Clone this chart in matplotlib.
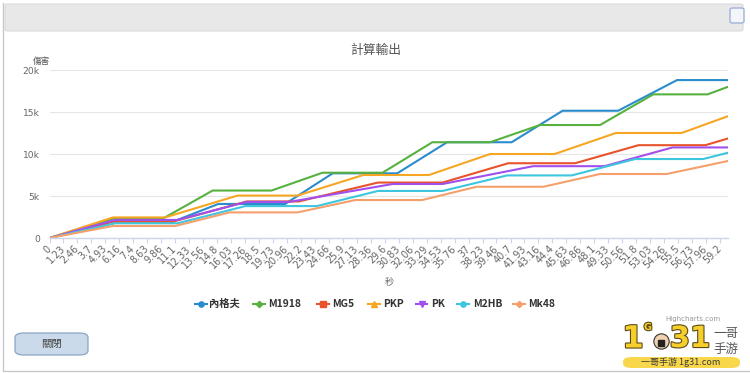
import matplotlib
matplotlib.use("Agg")
import matplotlib.pyplot as plt
from matplotlib.patches import FancyBboxPatch
from matplotlib.lines import Line2D
import matplotlib.patheffects as pe

# ---------------- data ----------------
tick_labels = ["0", "1.23", "2.46", "3.7", "4.93", "6.16", "7.4", "8.63", "9.86",
               "11.1", "12.33", "13.56", "14.8", "16.03", "17.26", "18.5", "19.73",
               "20.96", "22.2", "23.43", "24.66", "25.9", "27.13", "28.36", "29.6",
               "30.83", "32.06", "33.29", "34.53", "35.76", "37", "38.23", "39.46",
               "40.7", "41.93", "43.16", "44.4", "45.63", "46.86", "48.1", "49.33",
               "50.56", "51.8", "53.03", "54.26", "55.5", "56.73", "57.96", "59.2"]

negev_t = [0, 5.6, 10.9, 14.9, 20.8, 25.0, 30.7, 35.1, 40.8, 45.3, 50.2, 55.4, 59.9]
negev_v = [0, 1950, 1950, 4050, 4050, 7700, 7700, 11400, 11400, 15150, 15150, 18800, 18800]

m1918_t = [0, 5.6, 10.0, 14.4, 19.6, 24.1, 29.4, 33.8, 38.9, 43.3, 48.6, 53.3, 58.1, 59.9]
m1918_v = [0, 2300, 2300, 5650, 5650, 7770, 7770, 11400, 11400, 13450, 13450, 17100, 17100, 18000]

mg5_t = [0, 5.6, 10.9, 17.4, 22.0, 29.0, 34.7, 40.5, 46.4, 52.0, 57.9, 59.9]
mg5_v = [0, 1950, 1950, 4350, 4350, 6600, 6600, 8900, 8900, 11050, 11050, 11850]

pkp_t = [0, 5.6, 10.2, 16.6, 21.9, 27.7, 33.5, 38.9, 44.6, 50.0, 55.8, 59.9]
pkp_v = [0, 2450, 2450, 5050, 5050, 7500, 7500, 10000, 10000, 12500, 12500, 14500]

pk_t = [0, 5.8, 11.3, 17.4, 21.2, 30.3, 34.7, 42.7, 49.0, 55.0, 59.9]
pk_v = [0, 2150, 2150, 4300, 4300, 6430, 6430, 8550, 8550, 10780, 10780]

m2hb_t = [0, 5.8, 11.3, 17.3, 23.6, 29.0, 34.7, 40.4, 46.1, 51.7, 57.7, 59.9]
m2hb_v = [0, 1750, 1750, 3800, 3800, 5600, 5600, 7450, 7450, 9400, 9400, 10150]

mk48_t = [0, 5.6, 11.1, 15.9, 21.9, 27.0, 32.9, 37.7, 43.6, 48.6, 54.5, 59.9]
mk48_v = [0, 1430, 1430, 3050, 3050, 4520, 4520, 6100, 6100, 7620, 7620, 9170]

series_names = ["內格夫", "M1918", "MG5", "PKP", "PK", "M2HB", "Mk48"]
series_t = [negev_t, m1918_t, mg5_t, pkp_t, pk_t, m2hb_t, mk48_t]
series_v = [negev_v, m1918_v, mg5_v, pkp_v, pk_v, m2hb_v, mk48_v]

y_ticks = [0, 5000, 10000, 15000, 20000]
y_tick_labels = ["0", "5k", "10k", "15k", "20k"]

# ---------------- style ----------------
colors = ["#2a8ccd", "#56b13f", "#e8532b", "#f6a623", "#a150ee", "#3ec6de", "#f5a06c"]
markers = ["o", "D", "s", "^", "v", "o", "D"]
CJK = ["Noto Sans CJK TC", "DejaVu Sans"]

W, H = 750, 373
fig = plt.figure(figsize=(W / 100, H / 100), dpi=100)
fig.patch.set_facecolor("white")


def fx(px):
    return px / W


def fy(py):
    return 1 - py / H


# dialog frame
fig.add_artist(Line2D([fx(2.5), fx(2.5)], [fy(3), fy(370)], color="#c8c8c8", lw=1.0))
fig.add_artist(Line2D([fx(2.5), fx(750)], [fy(370.5), fy(370.5)], color="#c8c8c8", lw=1.0))
fig.add_artist(FancyBboxPatch((fx(5), fy(31)), fx(743) - fx(5), fy(4) - fy(31),
                              boxstyle="round,pad=0,rounding_size=0.004",
                              transform=fig.transFigure, facecolor="#e8e8e8",
                              edgecolor="#dadada", lw=0.8))
fig.add_artist(FancyBboxPatch((fx(730), fy(23)), fx(744) - fx(730), fy(8) - fy(23),
                              boxstyle="round,pad=0,rounding_size=0.004",
                              transform=fig.transFigure, facecolor="#f3f5fa",
                              edgecolor="#9fb2d6", lw=1.0))

# plot area
ax = fig.add_axes([fx(49.5), fy(238), fx(728) - fx(49.5), fy(70) - fy(238)])
ax.set_facecolor("white")
for name, t, v, c in zip(series_names, series_t, series_v, colors):
    ax.plot(t, v, color=c, lw=1.5, solid_joinstyle="round", label=name)

ax.set_xlim(0, 59.9)
ax.set_ylim(0, 20000)
ax.set_yticks(y_ticks)
ax.set_yticklabels(y_tick_labels)
ax.yaxis.grid(True, color="#e6e6e6", lw=0.8)
ax.set_axisbelow(True)
for s in ["top", "right", "left"]:
    ax.spines[s].set_visible(False)
ax.spines["bottom"].set_color("#ccd6eb")
ax.spines["bottom"].set_linewidth(1.0)
ax.tick_params(axis="y", length=0, pad=7, labelsize=6.6, labelcolor="#666666")
ax.set_xticks([float(s) for s in tick_labels])
ax.set_xticklabels(tick_labels, rotation=45, ha="right", va="center",
                   rotation_mode="anchor")
ax.tick_params(axis="x", length=3.6, width=0.8, color="#ccd6eb", pad=3,
               labelsize=6.9, labelcolor="#666666")
for lab in ax.get_xticklabels() + ax.get_yticklabels():
    lab.set_fontfamily("DejaVu Sans")

# texts
fig.text(fx(376), fy(50), "計算輸出", family=CJK, fontsize=9.2, color="#555555",
         ha="center", va="center")
fig.text(fx(41), fy(61), "傷害", family=CJK, fontsize=6.2, color="#555555",
         ha="center", va="center")
fig.text(fx(389), fy(282), "秒", family=CJK, fontsize=6.6, color="#666666",
         ha="center", va="center")

# legend
leg_sym_x = [200.8, 259.2, 322.5, 374.2, 421.5, 463.2, 519.2]
leg_txt_x = [209.3, 268.3, 331.7, 383.3, 430.7, 473.3, 528.3]
leg_y = 304
for name, c, m, sx, tx in zip(series_names, colors, markers, leg_sym_x, leg_txt_x):
    fig.add_artist(Line2D([fx(sx - 6), fx(sx + 6)], [fy(leg_y), fy(leg_y)],
                          color=c, lw=1.5))
    fig.add_artist(Line2D([fx(sx)], [fy(leg_y)], color=c, marker=m,
                          markersize=3.8 if m != "D" else 3.2, lw=0))
    fig.text(fx(tx), fy(leg_y), name, family=CJK, fontsize=7.4, fontweight="bold",
             color="#333333", ha="left", va="center")

# credits
fig.text(fx(720), fy(319), "Highcharts.com", family="DejaVu Sans", fontsize=5,
         color="#999999", ha="right", va="center")

# close button
fig.add_artist(FancyBboxPatch((fx(15), fy(355)), fx(88) - fx(15), fy(333) - fy(355),
                              boxstyle="round,pad=0,rounding_size=0.012",
                              transform=fig.transFigure, facecolor="#cbdaea",
                              edgecolor="#8aa4c4", lw=0.9))
fig.text(fx(52), fy(344), "關閉", family=CJK, fontsize=7.5, color="#444444",
         ha="center", va="center")

# watermark logo (approximation)
outline = [pe.withStroke(linewidth=1.6, foreground="#5a4a1a")]
for ch, x, y, fs in [("1", 633, 339, 22), ("G", 648, 327, 7), ("31", 690, 339, 21)]:
    fig.text(fx(x), fy(y), ch, family="DejaVu Sans", fontweight="bold", fontsize=fs,
             color="#f7cf2a", ha="center", va="center", path_effects=outline)
fig.add_artist(Line2D([fx(661)], [fy(341)], marker="o", markersize=11, color="#f2d3b0",
                      markeredgecolor="#333333", markeredgewidth=0.8, lw=0))
fig.add_artist(Line2D([fx(661)], [fy(343)], marker="s", markersize=5, color="#222222", lw=0))
fig.text(fx(726), fy(333), "一哥", family=CJK, fontsize=9, color="#555555",
         ha="center", va="center")
fig.text(fx(726), fy(349), "手游", family=CJK, fontsize=9, color="#555555",
         ha="center", va="center")
fig.add_artist(FancyBboxPatch((fx(623), fy(368)), fx(740) - fx(623), fy(357) - fy(368),
                              boxstyle="round,pad=0,rounding_size=0.012",
                              transform=fig.transFigure, facecolor="#f8d84a",
                              edgecolor="none"))
fig.text(fx(681), fy(362.5), "一哥手游 1g31.com", family=CJK, fontsize=6.5,
         color="#3a3a3a", ha="center", va="center")

fig.savefig("out.png", dpi=100, facecolor="white")
